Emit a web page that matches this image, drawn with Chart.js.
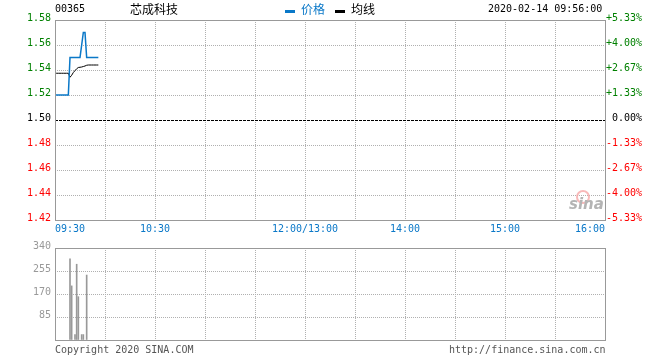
<!DOCTYPE html>
<html>
<head>
<meta charset="utf-8">
<script src="https://cdn.jsdelivr.net/npm/chart.js@4.4.1/dist/chart.umd.min.js"></script>
<style>
body{margin:0;background:#fff;width:660px;height:360px;position:relative;overflow:hidden}
canvas{position:absolute;left:0}
.t{position:absolute;white-space:nowrap;font:10px/10px "DejaVu Sans Mono",monospace}
.c{position:absolute;white-space:nowrap;font:12px/12px "Noto Sans CJK SC",sans-serif}
.dash{position:absolute;width:10px;height:3px}
</style>
</head>
<body>
<canvas id="priceChart" width="660" height="238" style="top:0"></canvas>
<canvas id="volChart" width="660" height="122" style="top:238px"></canvas>
<div class="t" style="left:55px;top:4px">00365</div>
<div class="c" style="left:130px;top:3px">芯成科技</div>
<div class="dash" style="left:285px;top:10px;background:#0a78c8"></div>
<div class="c" style="left:301px;top:3px;color:#0a78c8">价格</div>
<div class="dash" style="left:335px;top:10px;background:#000"></div>
<div class="c" style="left:351px;top:3px">均线</div>
<div class="t" style="left:488px;top:4px">2020-02-14 09:56:00</div>
<div class="t" style="left:55px;top:345px;color:#555">Copyright 2020 SINA.COM</div>
<div class="t" style="left:449px;top:345px;color:#555">http://finance.sina.com.cn</div>
<div style="position:absolute;left:576px;top:190px;width:10px;height:10px;border:2px solid #f6a8a8;border-radius:50%;opacity:.8"></div>
<div style="position:absolute;left:569px;top:197px;font:italic bold 15px/15px 'DejaVu Sans',sans-serif;color:#b4b4b4">sina</div>
<script>
// minutes after 09:30 (trading day is 330 minutes long)
var minutes = [0,1,2,3,4,5,6,7,8,9,10,11,12,13,14,15,16,17,18,19,20,21,22,23,24,25,26]
var price = [1.52,1.52,1.52,1.52,1.52,1.52,1.52,1.52,1.52,1.55,1.55,1.55,1.55,1.55,1.55,1.55,1.56,1.57,1.57,1.55,1.55,1.55,1.55,1.55,1.55,1.55,1.55]
var avgPrice = [1.5374,1.5374,1.5374,1.5374,1.5374,1.5374,1.5374,1.5374,1.5374,1.5342,1.5358,1.538,1.5395,1.541,1.542,1.5422,1.5424,1.5428,1.5432,1.5438,1.544,1.544,1.544,1.544,1.544,1.544,1.544]
var volMinutes = [9,10,12,13,14,16,17,19]
var volume = [300,200,20,280,160,20,20,240]

var prevClose = 1.50
var priceTicks = [1.42,1.44,1.46,1.48,1.50,1.52,1.54,1.56,1.58]
var pctLabels = ['-5.33%','-4.00%','-2.67%','-1.33%','0.00%','+1.33%','+2.67%','+4.00%','+5.33%']
var volTicks = [0,85,170,255,340]
var timeTicks = [0,30,60,90,120,150,180,210,240,270,300,330]
var timeLabels = {0:'09:30',60:'10:30',150:'12:00/13:00',210:'14:00',270:'15:00',330:'16:00'}

var blue = '#0a78c8', green = '#008000', red = '#ff0000', gridGray = '#b0b0b0'

Chart.defaults.font.family = '"DejaVu Sans Mono", monospace'
Chart.defaults.font.size = 10

const frame = {
  id: 'frame',
  afterDraw(chart) {
    const {ctx, chartArea: a} = chart
    ctx.save()
    ctx.strokeStyle = '#999'
    ctx.lineWidth = 1
    ctx.strokeRect(a.left + 0.5, a.top + 0.5, a.right - a.left, a.bottom - a.top)
    ctx.restore()
  }
}

const zeroLine = {
  id: 'zeroLine',
  beforeDatasetsDraw(chart) {
    const {ctx, chartArea: a} = chart
    const y = Math.round(chart.scales.y.getPixelForValue(prevClose)) + 0.5
    ctx.save()
    ctx.strokeStyle = '#000'
    ctx.lineWidth = 1
    ctx.setLineDash([3, 1])
    ctx.beginPath()
    ctx.moveTo(a.left, y)
    ctx.lineTo(a.right, y)
    ctx.stroke()
    ctx.restore()
  }
}

function pts(xs, ys) {
  return xs.map((x, i) => ({x: x, y: ys[i]}))
}

function timeAxis(showLabels) {
  return {
    type: 'linear', min: 0, max: 330, offset: false,
    afterBuildTicks: s => { s.ticks = timeTicks.map(v => ({value: v})) },
    afterFit: s => { s.height = showLabels ? 18 : 20 },
    grid: {color: gridGray, drawTicks: false, tickLength: 0, offset: false},
    border: {display: false, dash: [1, 1]},
    ticks: {
      display: showLabels, autoSkip: false, maxRotation: 0, align: 'inner',
      padding: 3, color: blue,
      callback: v => timeLabels[v] || ''
    }
  }
}

new Chart(document.getElementById('priceChart'), {
  type: 'line',
  data: {
    datasets: [
      {data: pts(minutes, price), borderColor: blue, borderWidth: 1.5, pointRadius: 0, tension: 0},
      {data: pts(minutes, avgPrice), borderColor: '#000', borderWidth: 1, pointRadius: 0, tension: 0}
    ]
  },
  options: {
    responsive: false, animation: false,
    layout: {padding: {top: 20, right: 18}},
    plugins: {legend: {display: false}, tooltip: {enabled: false}},
    scales: {
      x: timeAxis(true),
      y: {
        position: 'left', min: 1.42, max: 1.58,
        afterBuildTicks: s => { s.ticks = priceTicks.map(v => ({value: v})) },
        afterFit: s => { s.width = 55 },
        grid: {
          drawTicks: false, tickLength: 0,
          color: c => Math.abs(c.tick.value - prevClose) < 1e-6 ? 'rgba(0,0,0,0)' : gridGray
        },
        border: {display: false, dash: [1, 1]},
        ticks: {
          padding: 4, labelOffset: -2,
          callback: v => v.toFixed(2),
          color: c => c.tick.value > prevClose + 1e-6 ? green : (c.tick.value < prevClose - 1e-6 ? red : '#000')
        }
      },
      y2: {
        position: 'right', min: 1.42, max: 1.58,
        afterBuildTicks: s => { s.ticks = priceTicks.map(v => ({value: v})) },
        afterFit: s => { s.width = 37 },
        grid: {display: false, drawTicks: false, tickLength: 0},
        border: {display: false},
        ticks: {
          padding: 1, labelOffset: -2, crossAlign: 'far',
          callback: (v, i) => pctLabels[i],
          color: c => c.tick.value > prevClose + 1e-6 ? green : (c.tick.value < prevClose - 1e-6 ? red : '#000')
        }
      }
    }
  },
  plugins: [zeroLine, frame]
})

new Chart(document.getElementById('volChart'), {
  type: 'bar',
  data: {
    datasets: [
      {data: pts(volMinutes, volume), backgroundColor: '#999', barThickness: 1}
    ]
  },
  options: {
    responsive: false, animation: false,
    layout: {padding: {top: 2, right: 55}},
    plugins: {legend: {display: false}, tooltip: {enabled: false}},
    scales: {
      x: timeAxis(false),
      y: {
        position: 'left', min: 0, max: 340,
        afterBuildTicks: s => { s.ticks = volTicks.map(v => ({value: v})) },
        afterFit: s => { s.width = 55 },
        grid: {color: gridGray, drawTicks: false, tickLength: 0},
        border: {display: false, dash: [1, 1]},
        ticks: {
          padding: 4, labelOffset: -2, color: '#999',
          callback: v => v === 0 ? '' : String(v)
        }
      }
    }
  },
  plugins: [frame]
})
</script>
</body>
</html>
